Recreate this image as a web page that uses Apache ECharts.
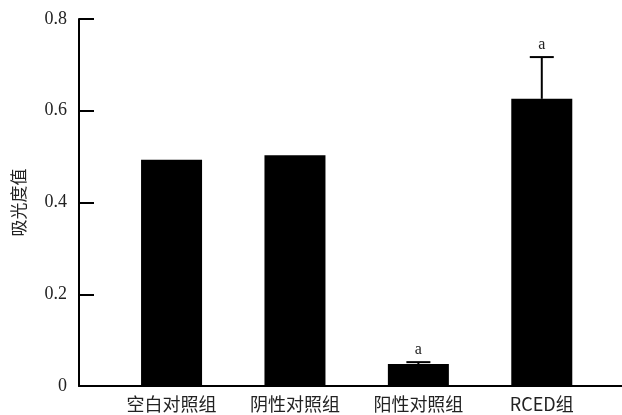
<!DOCTYPE html>
<html>
<head>
<meta charset="utf-8">
<script src="https://cdn.jsdelivr.net/npm/echarts@6/dist/echarts.min.js"></script>
<style>html,body{margin:0;padding:0;background:#fff;}#c{width:622px;height:415px;}</style>
</head>
<body>
<div id="c"></div>
<script>
var categories = ['空白对照组', '阴性对照组', '阳性对照组', 'RCED组'];
var values = [0.493, 0.503, 0.048, 0.626];
var errors = [0, 0, 0.004, 0.091];
var marks = ['', '', 'a', 'a'];
var yTicks = [0, 0.2, 0.4, 0.6, 0.8];

var chart = echarts.init(document.getElementById('c'));
var barData = values.map(function (v, i) { return [i, v]; });
var errData = values.map(function (v, i) { return [i, v, errors[i], marks[i]]; });

chart.setOption({
  animation: false,
  backgroundColor: '#fff',
  grid: { left: 79, right: 0, top: 19, bottom: 29 },
  xAxis: {
    type: 'value', min: -0.75, max: 3.65,
    splitLine: { show: false },
    axisTick: { show: false },
    axisLine: { show: true, onZero: false, lineStyle: { color: '#000', width: 2 } },
    axisLabel: {
      customValues: [0, 1, 2, 3],
      formatter: function (v) { return categories[Math.round(v)]; },
      color: '#222', fontSize: 18, margin: 9,
      fontFamily: '"Noto Sans CJK SC", "Liberation Serif", serif'
    }
  },
  yAxis: {
    type: 'value', min: 0, max: 0.8, interval: 0.2,
    name: '吸光度值', nameLocation: 'middle', nameRotate: 90, nameGap: 52,
    nameTextStyle: { color: '#222', fontSize: 17, fontFamily: '"Noto Sans CJK SC", serif' },
    splitLine: { show: false },
    axisLine: { show: true, onZero: false, lineStyle: { color: '#000', width: 2 } },
    axisTick: { show: true, inside: true, length: 15, lineStyle: { color: '#000', width: 2 } },
    axisLabel: {
      color: '#222', fontSize: 18, margin: 12,
      fontFamily: '"Liberation Serif", "DejaVu Serif", serif',
      formatter: function (v) { return v === 0 ? '0' : v.toFixed(1); }
    }
  },
  series: [
    {
      type: 'bar', data: barData, barWidth: 61,
      itemStyle: { color: '#000' }
    },
    {
      type: 'custom', data: errData, z: 5,
      renderItem: function (params, api) {
        var x = api.value(0), v = api.value(1), e = api.value(2);
        var mark = marks[params.dataIndex];
        var base = api.coord([x, v]);
        var top = api.coord([x, v + e]);
        var children = [];
        if (e > 0) {
          children.push({ type: 'line', shape: { x1: base[0], y1: base[1], x2: top[0], y2: top[1] }, style: { stroke: '#000', lineWidth: 2 } });
          children.push({ type: 'line', shape: { x1: top[0] - 12, y1: top[1], x2: top[0] + 12, y2: top[1] }, style: { stroke: '#000', lineWidth: 2 } });
        }
        if (mark) {
          children.push({ type: 'text', x: top[0], y: top[1] - 4, style: { text: mark, fill: '#222', fontSize: 16, fontFamily: '"Liberation Serif", serif', align: 'center', verticalAlign: 'bottom' } });
        }
        return { type: 'group', children: children };
      }
    }
  ]
});
</script>
</body>
</html>
